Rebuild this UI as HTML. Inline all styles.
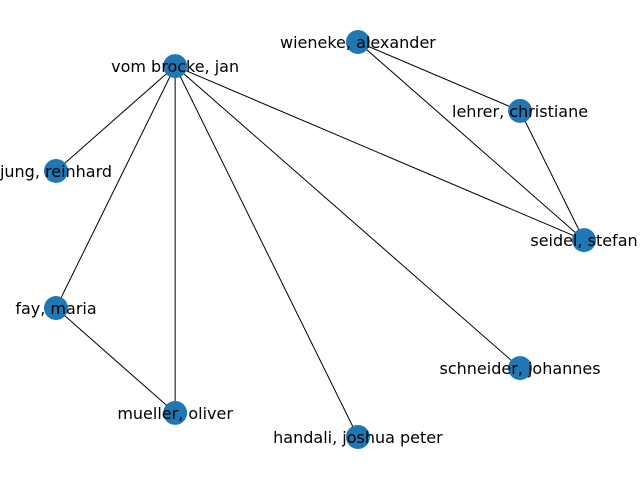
<!DOCTYPE html>
<html>
<head>
<meta charset="utf-8">
<style>
  html, body { margin: 0; padding: 0; background: #fff; }
  svg { display: block; }
  text { font-family: "DejaVu Sans", "Liberation Sans", sans-serif; font-size: 16px; fill: #000; }
</style>
</head>
<body>
<svg id="chart" width="640" height="480" viewBox="0 0 640 480" xmlns="http://www.w3.org/2000/svg">
  <rect width="640" height="480" fill="#ffffff"></rect>
  <g id="edges"></g>
  <g id="nodes"></g>
  <g id="labels"></g>
</svg>
<script>
// Node names and layout coordinates (layout units, x rightward, y upward)
const nodeNames = ["vom brocke, jan", "wieneke, alexander", "lehrer, christiane", "jung, reinhard", "seidel, stefan", "fay, maria", "schneider, johannes", "mueller, oliver", "handali, joshua peter"];
const nodeX = [-0.641, 0.048, 0.659, -1.09, 0.90, -1.09, 0.659, -0.641, 0.048];
const nodeY = [0.878, 1.00, 0.651, 0.347, -0.003, -0.347, -0.651, -0.878, -1.00];
const edgeSource = [0, 0, 0, 0, 0, 0, 1, 1, 2, 5];
const edgeTarget = [3, 5, 7, 8, 6, 4, 2, 4, 4, 7];

// axis functions: layout units -> pixels
const xMin = -1.09, xMax = 0.90, pxMin = 56, pxMax = 584;
const yMin = -1.00, yMax = 1.00, pyMin = 437, pyMax = 42;
function sx(v) { return pxMin + (v - xMin) / (xMax - xMin) * (pxMax - pxMin); }
function sy(v) { return pyMin + (v - yMin) / (yMax - yMin) * (pyMax - pyMin); }

const NS = "http://www.w3.org/2000/svg";
const eg = document.getElementById("edges");
const ng = document.getElementById("nodes");
const lg = document.getElementById("labels");

for (let i = 0; i < edgeSource.length; i++) {
  const a = edgeSource[i], b = edgeTarget[i];
  const l = document.createElementNS(NS, "line");
  l.setAttribute("x1", sx(nodeX[a])); l.setAttribute("y1", sy(nodeY[a]));
  l.setAttribute("x2", sx(nodeX[b])); l.setAttribute("y2", sy(nodeY[b]));
  l.setAttribute("stroke", "#000"); l.setAttribute("stroke-width", "1");
  
  
  eg.appendChild(l);
}
for (let i = 0; i < nodeNames.length; i++) {
  const c = document.createElementNS(NS, "circle");
  c.setAttribute("cx", sx(nodeX[i])); c.setAttribute("cy", sy(nodeY[i]));
  c.setAttribute("r", "12"); c.setAttribute("fill", "#1f77b4");
  
  
  ng.appendChild(c);
  const t = document.createElementNS(NS, "text");
  t.setAttribute("x", sx(nodeX[i])); t.setAttribute("y", sy(nodeY[i]) + 6);
  t.setAttribute("text-anchor", "middle");
  t.textContent = nodeNames[i];
  
  
  lg.appendChild(t);
}
</script>
</body>
</html>
